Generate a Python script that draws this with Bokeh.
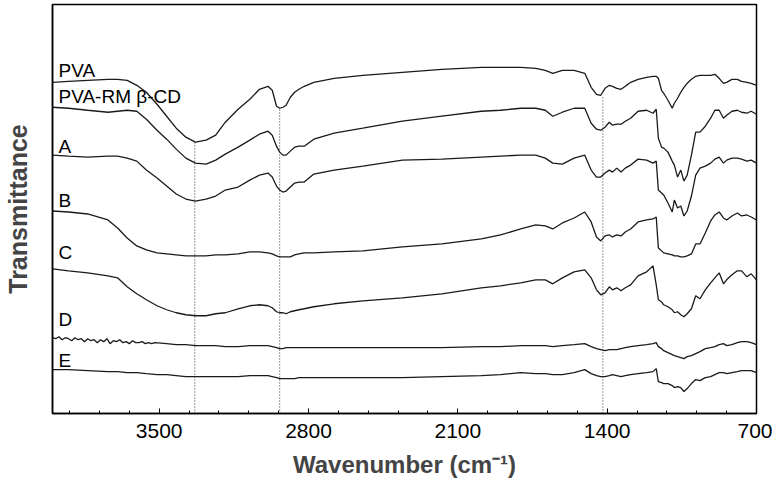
from bokeh.plotting import figure
from bokeh.models import Range1d, FixedTicker
from bokeh.core.properties import value
from bokeh.embed import file_html
from bokeh.resources import INLINE

# Wavenumber grid (cm-1) shared by the spectra
wavenumber = [4000, 3925, 3835, 3740, 3695, 3650, 3605, 3560, 3510, 3465,
              3420, 3375, 3330, 3280, 3235, 3190, 3130, 3075, 3030, 2990,
              2970, 2950, 2935, 2920, 2905, 2885, 2865, 2845, 2820, 2775,
              2680, 2545, 2360, 2175, 1990, 1900, 1805, 1735, 1690, 1655,
              1610, 1555, 1505, 1475, 1450, 1430, 1410, 1390, 1375, 1355,
              1335, 1315, 1290, 1255, 1215, 1185, 1170, 1160, 1145, 1135,
              1115, 1095, 1085, 1070, 1055, 1040, 1025, 1005, 985, 965,
              940, 915, 895, 875, 855, 840, 815, 790, 770, 745, 725, 700]

# Offset transmittance (a.u.)
pva = [332, 333, 334, 335, 335, 334, 329, 322, 310, 298,
       286, 277, 272, 274, 279, 292, 305, 315, 325, 328,
       324, 308, 306, 307, 309, 317, 322, 325, 328, 332,
       336, 339, 342, 345, 347, 347, 347, 346, 344, 341,
       344, 344, 341, 327, 320, 319, 326, 329, 328, 326,
       325, 328, 332, 335, 337, 338, 338, 336, 324, 321,
       314, 306, 311, 316, 322, 327, 331, 335, 338, 339,
       339, 339, 340, 336, 331, 332, 335, 335, 333, 332, 331, 329]

pva_rm_bcd = [307, 306, 304, 302, 303, 304, 303, 295, 284, 275,
              265, 256, 251, 250, 254, 260, 267, 274, 280, 283,
              279, 268, 262, 259, 259, 263, 267, 268, 268, 275,
              281, 286, 293, 298, 303, 304, 306, 306, 304, 298,
              302, 306, 306, 291, 285, 284, 287, 292, 289, 290,
              290, 293, 296, 303, 304, 301, 305, 276, 267, 266,
              262, 253, 249, 237, 244, 233, 239, 259, 282, 282,
              288, 296, 304, 304, 296, 299, 303, 304, 302, 301, 303, 300]

sample_a = [259, 258, 257, 258, 258, 256, 253, 244, 236, 228,
            220, 215, 213, 215, 218, 224, 227, 234, 239, 241,
            237, 228, 224, 222, 223, 227, 231, 232, 232, 240,
            244, 248, 254, 255, 257, 258, 259, 259, 256, 251,
            250, 256, 259, 244, 237, 237, 241, 244, 242, 246,
            242, 246, 249, 255, 254, 251, 253, 224, 221, 219,
            211, 202, 214, 206, 208, 198, 203, 218, 239, 246,
            248, 251, 255, 257, 251, 254, 256, 256, 255, 253, 254, 251]

sample_b = [203, 202, 200, 194, 186, 176, 168, 164, 161, 160,
            159, 158, 158, 158, 159, 159, 160, 162, 162, 161,
            160, 158, 157, 157, 157, 157, 159, 160, 161, 161,
            162, 163, 167, 170, 175, 179, 185, 189, 188, 185,
            191, 196, 202, 192, 177, 173, 178, 179, 177, 179,
            178, 182, 185, 192, 194, 195, 197, 166, 163, 161,
            160, 159, 158, 158, 157, 157, 158, 160, 170, 170,
            181, 193, 199, 202, 196, 194, 198, 201, 198, 199, 197, 194]

sample_c = [145, 143, 141, 138, 136, 127, 120, 114, 108, 104,
            101, 99, 98, 98, 100, 101, 105, 108, 109, 108,
            106, 102, 101, 101, 100, 102, 103, 104, 105, 107,
            110, 113, 116, 120, 126, 128, 131, 134, 134, 130,
            136, 142, 144, 136, 124, 119, 121, 127, 124, 126,
            123, 126, 129, 138, 142, 148, 129, 114, 112, 109,
            107, 104, 101, 102, 99, 97, 100, 105, 118, 115,
            124, 131, 136, 141, 130, 134, 139, 143, 143, 137, 140, 134]

# Sample D: noisy high-wavenumber part read at a finer step, then the shared grid
sample_d_wavenumber = [4000, 3985, 3970, 3955, 3940, 3925, 3910, 3895, 3880, 3865,
                       3850, 3835, 3820, 3805, 3790, 3775, 3760, 3745, 3730, 3715,
                       3700, 3685, 3670, 3655, 3640, 3625, 3610, 3595, 3580, 3565,
                       3550, 3535, 3520] + wavenumber[9:]
sample_d = [76, 75, 77, 74, 76, 75, 73, 76, 74, 75,
            72, 75, 73, 74, 71, 74, 72, 75, 70, 73,
            72, 74, 71, 72, 70, 73, 71, 71, 72, 70,
            71, 70, 71,
            70, 69, 69, 68, 68, 68, 67, 67, 68, 68, 68,
            67, 66, 65, 65, 66, 66, 66, 66, 66, 66,
            66, 66, 66, 66, 67, 67, 68, 68, 68, 67,
            68, 69, 70, 67, 65, 64, 63, 64, 64, 64,
            65, 66, 67, 68, 69, 70, 71, 67, 65, 63,
            61, 59, 58, 57, 56, 55, 57, 58, 60, 62,
            65, 66, 67, 69, 70, 68, 69, 71, 72, 72, 71, 69]

sample_e = [44, 44, 43, 42, 42, 41, 41, 40, 39, 39,
            38, 37, 37, 37, 37, 37, 37, 38, 38, 38,
            37, 36, 35, 35, 35, 35, 35, 36, 36, 36,
            36, 36, 36, 37, 38, 39, 41, 40, 40, 39,
            39, 41, 44, 40, 38, 37, 37, 38, 39, 38,
            37, 38, 39, 40, 41, 42, 45, 32, 31, 30,
            30, 28, 26, 27, 26, 22, 25, 30, 34, 33,
            36, 37, 39, 41, 41, 40, 41, 42, 43, 43, 43, 41]

series = [(wavenumber, pva), (wavenumber, pva_rm_bcd), (wavenumber, sample_a),
          (wavenumber, sample_b), (wavenumber, sample_c),
          (sample_d_wavenumber, sample_d), (wavenumber, sample_e)]
series_names = ["PVA", "PVA-RM \u03b2-CD", "A", "B", "C", "D", "E"]
label_y = [344, 318, 268, 214, 161, 94, 53]

marker_wavenumbers = [3333, 2935, 1420]
marker_tops = [272, 307, 318]

major_ticks = [3500, 2800, 2100, 1400, 700]
minor_ticks = [700 + 140 * i for i in range(24) if i % 5 != 0]

FONT = "Liberation Sans"

p = figure(width=772, height=480,
           x_range=Range1d(4000, 700), y_range=Range1d(0, 410),
           output_backend="svg", toolbar_location=None,
           min_border_left=44, min_border_right=16,
           min_border_top=4, min_border_bottom=66)

p.grid.visible = False
p.background_fill_color = "white"
p.border_fill_color = "white"
p.outline_line_color = "black"
p.outline_line_width = 1.5

# dotted reference lines
p.segment(x0=marker_wavenumbers, y0=[0] * 3, x1=marker_wavenumbers, y1=marker_tops,
          line_color="#333333", line_width=1, line_dash="1 2")

for xs, ys in series:
    p.line(xs, ys, line_color="#1a1a1a", line_width=1.3)

p.text(x=[3972] * len(series_names), y=label_y, text=series_names,
       text_font=value(FONT), text_font_size="19px", text_color="black",
       text_align="left", text_baseline="middle")

xa = p.xaxis[0]
xa.ticker = FixedTicker(ticks=major_ticks, minor_ticks=minor_ticks)
xa.axis_label = "Wavenumber (cm\u207b\u00b9)"
xa.axis_label_text_font = FONT
xa.axis_label_text_font_style = "bold"
xa.axis_label_text_font_size = "24px"
xa.axis_label_standoff = 10
xa.major_label_text_font = FONT
xa.major_label_text_font_size = "21px"
xa.major_label_text_color = "black"
xa.major_label_standoff = 10
xa.major_tick_in = 5
xa.major_tick_out = 0
xa.minor_tick_in = 3
xa.minor_tick_out = 0
xa.axis_line_color = "black"
xa.axis_line_width = 1.5
xa.major_tick_line_color = "black"
xa.minor_tick_line_color = "black"

ya = p.yaxis[0]
ya.ticker = FixedTicker(ticks=[])
ya.axis_label = "Transmittance"
ya.axis_label_text_font = FONT
ya.axis_label_text_font_style = "bold"
ya.axis_label_text_font_size = "25px"
ya.axis_label_standoff = 21
ya.major_label_text_font_size = "0px"
ya.major_tick_line_color = None
ya.minor_tick_line_color = None
ya.axis_line_color = "black"
ya.axis_line_width = 1.5

open("out.html", "w").write(file_html(p, INLINE))
